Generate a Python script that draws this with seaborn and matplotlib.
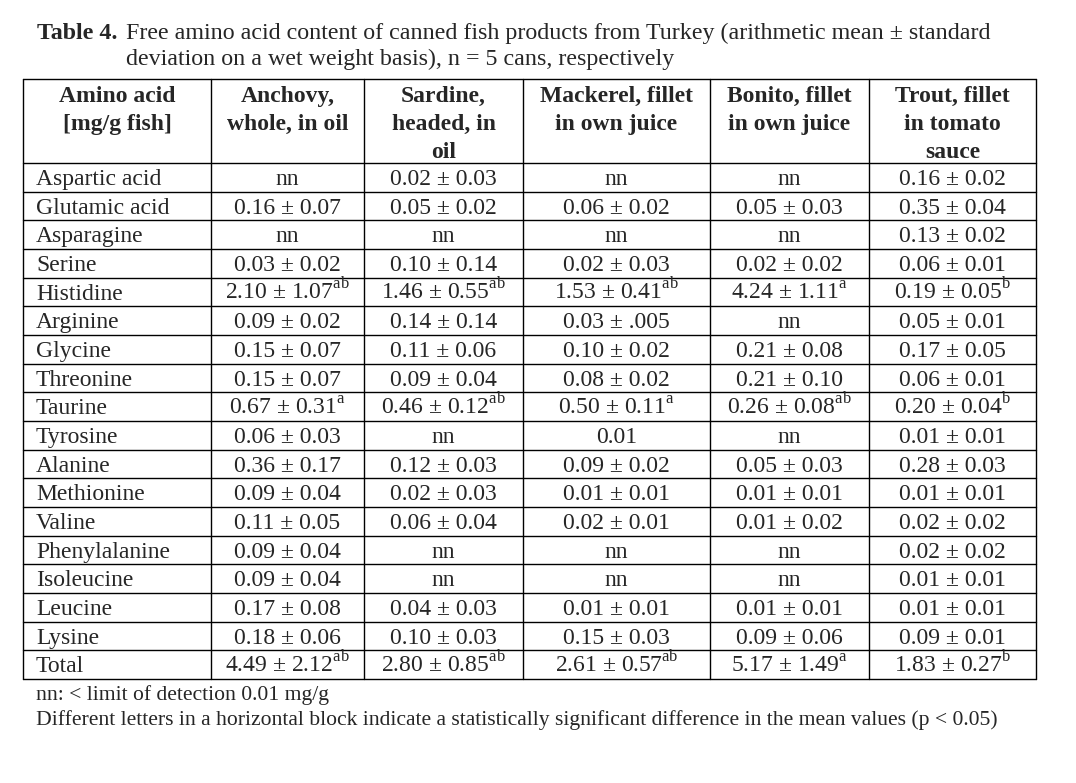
import matplotlib
matplotlib.use("Agg")
import matplotlib.pyplot as plt
import seaborn as sns

# ---------------------------------------------------------
# Datos de la tabla (media ± desviación, mg/g pescado)
# ---------------------------------------------------------
amino_acids = ["Aspartic acid", "Glutamic acid", "Asparagine", "Serine",
               "Histidine", "Arginine", "Glycine", "Threonine", "Taurine",
               "Tyrosine", "Alanine", "Methionine", "Valine", "Phenylalanine",
               "Isoleucine", "Leucine", "Lysine", "Total"]

anchovy = ["nn", "0.16 ± 0.07", "nn", "0.03 ± 0.02", "2.10 ± 1.07",
           "0.09 ± 0.02", "0.15 ± 0.07", "0.15 ± 0.07", "0.67 ± 0.31",
           "0.06 ± 0.03", "0.36 ± 0.17", "0.09 ± 0.04", "0.11 ± 0.05",
           "0.09 ± 0.04", "0.09 ± 0.04", "0.17 ± 0.08", "0.18 ± 0.06",
           "4.49 ± 2.12"]
sardine = ["0.02 ± 0.03", "0.05 ± 0.02", "nn", "0.10 ± 0.14", "1.46 ± 0.55",
           "0.14 ± 0.14", "0.11 ± 0.06", "0.09 ± 0.04", "0.46 ± 0.12",
           "nn", "0.12 ± 0.03", "0.02 ± 0.03", "0.06 ± 0.04",
           "nn", "nn", "0.04 ± 0.03", "0.10 ± 0.03",
           "2.80 ± 0.85"]
mackerel = ["nn", "0.06 ± 0.02", "nn", "0.02 ± 0.03", "1.53 ± 0.41",
            "0.03 ± .005", "0.10 ± 0.02", "0.08 ± 0.02", "0.50 ± 0.11",
            "0.01", "0.09 ± 0.02", "0.01 ± 0.01", "0.02 ± 0.01",
            "nn", "nn", "0.01 ± 0.01", "0.15 ± 0.03",
            "2.61 ± 0.57"]
bonito = ["nn", "0.05 ± 0.03", "nn", "0.02 ± 0.02", "4.24 ± 1.11",
          "nn", "0.21 ± 0.08", "0.21 ± 0.10", "0.26 ± 0.08",
          "nn", "0.05 ± 0.03", "0.01 ± 0.01", "0.01 ± 0.02",
          "nn", "nn", "0.01 ± 0.01", "0.09 ± 0.06",
          "5.17 ± 1.49"]
trout = ["0.16 ± 0.02", "0.35 ± 0.04", "0.13 ± 0.02", "0.06 ± 0.01",
         "0.19 ± 0.05", "0.05 ± 0.01", "0.17 ± 0.05", "0.06 ± 0.01",
         "0.20 ± 0.04", "0.01 ± 0.01", "0.28 ± 0.03", "0.01 ± 0.01",
         "0.02 ± 0.02", "0.02 ± 0.02", "0.01 ± 0.01", "0.01 ± 0.01",
         "0.09 ± 0.01", "1.83 ± 0.27"]

# superindices (Histidine, Taurine, Total)
sup_rows = ["Histidine", "Taurine", "Total"]
anchovy_sup = ["ab", "a", "ab"]
sardine_sup = ["ab", "ab", "ab"]
mackerel_sup = ["ab", "a", "ab"]
bonito_sup = ["a", "ab", "a"]
trout_sup = ["b", "b", "b"]

headers = [["Amino acid", "[mg/g fish]"],
           ["Anchovy,", "whole, in oil"],
           ["Sardine,", "headed, in", "oil"],
           ["Mackerel, fillet", "in own juice"],
           ["Bonito, fillet", "in own juice"],
           ["Trout, fillet", "in tomato", "sauce"]]

title_bold = "Table 4."
title_lines = ["Free amino acid content of canned fish products from Turkey (arithmetic mean ± standard",
               "deviation on a wet weight basis), n = 5 cans, respectively"]
notes = ["nn: < limit of detection 0.01 mg/g",
         "Different letters in a horizontal block indicate a statistically significant difference in the mean values (p < 0.05)"]

# ---------------------------------------------------------
# Estilo
# ---------------------------------------------------------
sns.set_theme(style="white")
plt.rcParams["font.family"] = ["Liberation Serif", "DejaVu Serif"]
plt.rcParams["mathtext.fontset"] = "custom"
plt.rcParams["mathtext.rm"] = "Liberation Serif"

FS = 17
col_x = [23, 211, 364, 523, 710, 869, 1036]
top, head_bot, bottom = 79, 163, 679
row_h = (bottom - head_bot) / len(amino_acids)

fig = plt.figure(figsize=(10.76, 7.83), dpi=100)
ax = fig.add_axes([0, 0, 1, 1])
ax.set_xlim(0, 1076)
ax.set_ylim(783, 0)
ax.axis("off")

# Título
ax.text(37, 39, title_bold, fontsize=17.3, fontweight="bold", va="baseline")
for i, line in enumerate(title_lines):
    ax.text(126, 39 + 26 * i, line, fontsize=17.3, va="baseline")

# Rejilla
lw = 1.0
for x in col_x:
    ax.plot([x, x], [top, bottom], color="black", lw=lw)
ax.plot([col_x[0], col_x[-1]], [top, top], color="black", lw=lw)
for i in range(len(amino_acids) + 1):
    y = head_bot + i * row_h
    ax.plot([col_x[0], col_x[-1]], [y, y], color="black", lw=lw)

# Cabecera
for j, lines in enumerate(headers):
    cx = (col_x[j] + col_x[j + 1]) / 2
    for k, line in enumerate(lines):
        ax.text(cx, 102 + 28 * k, line, fontsize=FS, fontweight="bold",
                ha="center", va="baseline")

# Cuerpo
columns = [anchovy, sardine, mackerel, bonito, trout]
sups = [anchovy_sup, sardine_sup, mackerel_sup, bonito_sup, trout_sup]
for i, name in enumerate(amino_acids):
    yb = head_bot + i * row_h + 22
    ax.text(36, yb, name, fontsize=FS, va="baseline")
    for j, col in enumerate(columns):
        cx = (col_x[j + 1] + col_x[j + 2]) / 2
        s = col[i]
        if name in sup_rows:
            s = s + r"$^{\mathrm{" + sups[j][sup_rows.index(name)] + "}}$"
        ax.text(cx, yb, s, fontsize=FS, ha="center", va="baseline")

# Notas
for i, line in enumerate(notes):
    ax.text(36, 700 + 25 * i, line, fontsize=15.6, va="baseline")

plt.savefig("out.png", dpi=100, facecolor="white")
plt.close()
